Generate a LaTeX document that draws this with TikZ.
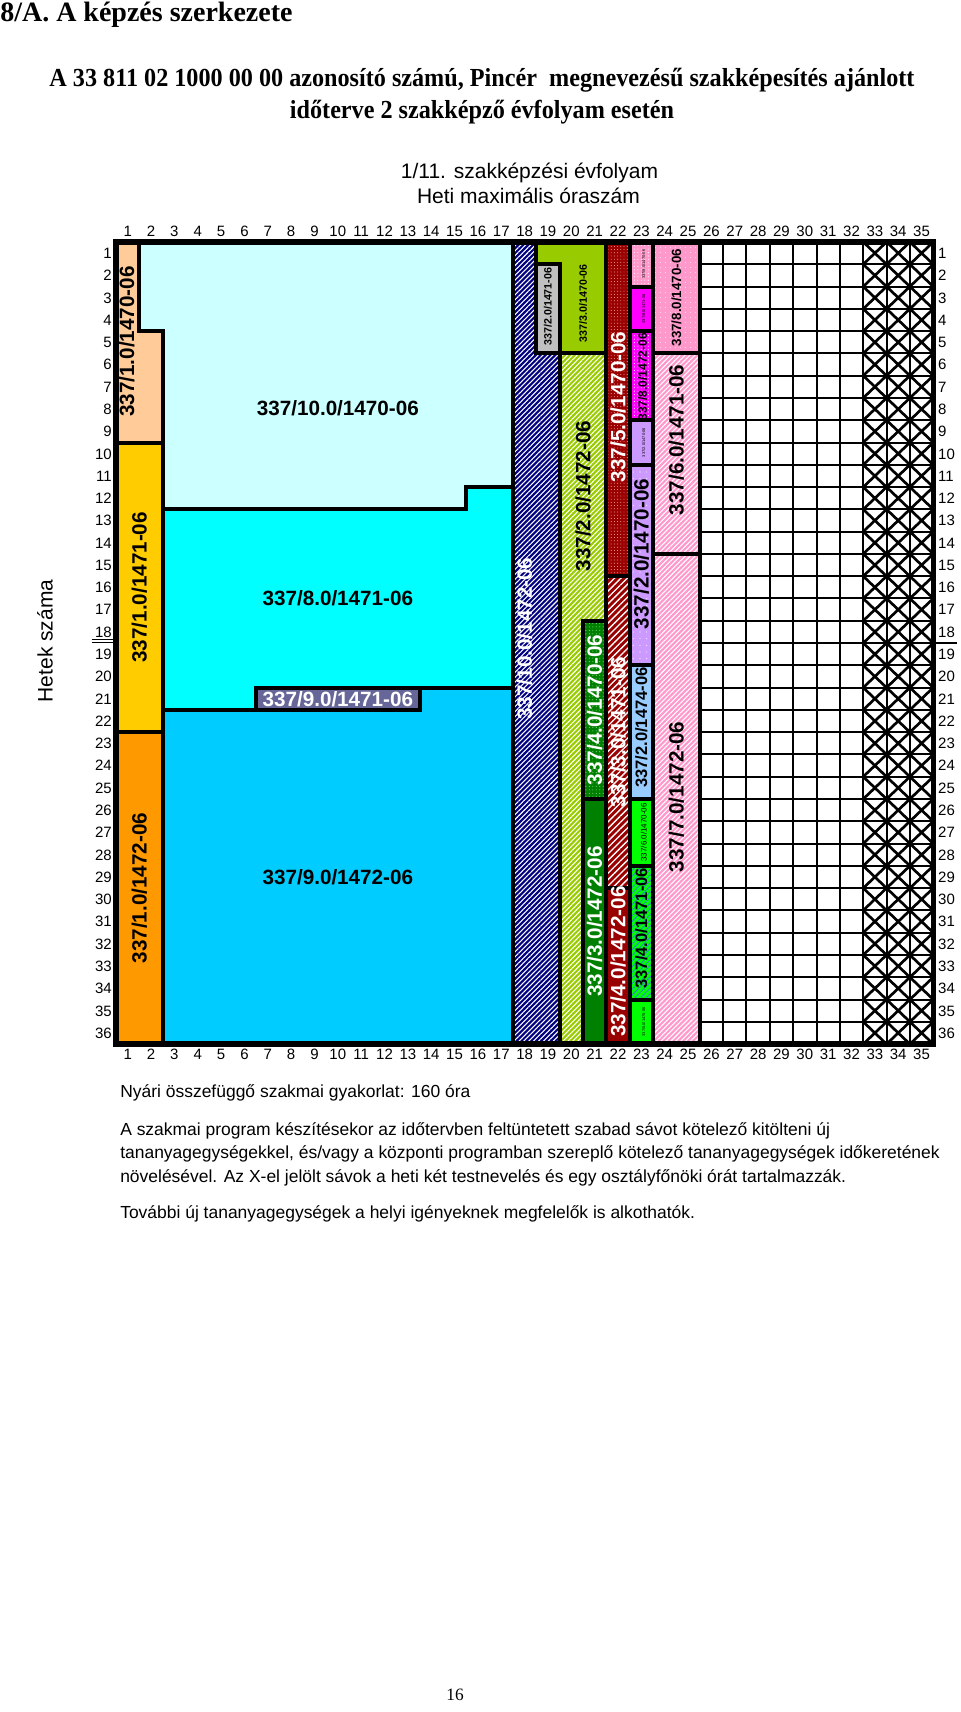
\documentclass[tikz,border=0pt]{standalone}
\usepackage{fontspec}
\setmainfont{Liberation Sans}
\newfontfamily\tnr{Liberation Serif}
\newfontfamily\tnrhead{Liberation Serif}[FakeStretch=0.93]
\usetikzlibrary{patterns.meta}
\definecolor{peach}{HTML}{FFCC99}
\definecolor{gold}{HTML}{FFCC00}
\definecolor{orangeC}{HTML}{FF9900}
\definecolor{lcyan}{HTML}{CCFFFF}
\definecolor{cyanC}{HTML}{00FFFF}
\definecolor{skyC}{HTML}{00CCFF}
\definecolor{slate}{HTML}{666699}
\definecolor{navyC}{HTML}{000080}
\definecolor{greyC}{HTML}{C0C0C0}
\definecolor{lime}{HTML}{99CC00}
\definecolor{dgreen}{HTML}{008000}
\definecolor{lgdot}{HTML}{88DD88}
\definecolor{dred}{HTML}{990000}
\definecolor{pkdot}{HTML}{FFBBBB}
\definecolor{pinkC}{HTML}{FF99CC}
\definecolor{magC}{HTML}{FF00FF}
\definecolor{lav}{HTML}{CC99FF}
\definecolor{lblue}{HTML}{99CCFF}
\definecolor{bgreen}{HTML}{00FF00}
\definecolor{hblue}{HTML}{3388CC}
\tikzset{
  blk/.style={draw=black,line width=3pt,line join=miter},
  lab/.style={inner sep=0pt,font=\bfseries\fontsize{15.5}{18}\selectfont},
  labm/.style={inner sep=0pt,font=\bfseries\fontsize{12.4}{14}\selectfont},
  labs/.style={inner sep=0pt,font=\bfseries\fontsize{10}{12}\selectfont},
  labx/.style={inner sep=0pt,font=\bfseries\fontsize{8}{9}\selectfont},
  labt/.style={inner sep=0pt,font=\fontsize{3}{3.5}\selectfont},
  rot/.style={rotate=90},
  num/.style={inner sep=0pt,font=\fontsize{11.25}{12}\selectfont},
  body/.style={anchor=base west,inner sep=0pt,font=\fontsize{13.1}{15}\selectfont},
  wlines/.style={pattern={Lines[angle=45,distance=2.6pt,line width=0.8pt]},pattern color=white},
  wlinesw/.style={pattern={Lines[angle=45,distance=3.4pt,line width=1pt]},pattern color=white},
  blines/.style={pattern={Lines[angle=45,distance=3pt,line width=0.7pt]},pattern color=hblue},
  wdots/.style={pattern={Dots[distance=2.6pt,radius=0.4pt]},pattern color=white},
}
\begin{document}
\begin{tikzpicture}[x=0.75pt,y=-0.75pt]
\useasboundingbox (0,0) rectangle (960,1712);
\fill[white] (0,0) rectangle (960,1712);
% headings
\node[anchor=base west,inner sep=0pt,font=\tnr\bfseries\fontsize{21}{24}\selectfont] (title) at (0,22) {8/A. A képzés szerkezete};
\node[anchor=base,inner sep=0pt,font=\tnrhead\bfseries\fontsize{19.5}{22}\selectfont] (h1) at (482,87) {A 33 811 02 1000 00 00 azonosító számú, Pincér\ \ megnevezésű szakképesítés ajánlott};
\node[anchor=base,inner sep=0pt,font=\tnrhead\bfseries\fontsize{19.5}{22}\selectfont] (h2) at (482,118.7) {időterve 2 szakképző évfolyam esetén};
\node[anchor=base,inner sep=0pt,font=\fontsize{15.75}{18}\selectfont] (h3) at (529.5,179) {1/11. szakképzési évfolyam};
\node[anchor=base,inner sep=0pt,font=\fontsize{15.75}{18}\selectfont] (h4) at (528.5,204) {Heti maximális óraszám};
\node[rotate=90,inner sep=0pt,font=\fontsize{15.75}{18}\selectfont] (hs) at (45,641) {Hetek száma};
% separators at week 18
\draw[line width=0.75pt] (91.7,639) -- (113.3,639) (91.7,642.3) -- (113.3,642.3);
\draw[line width=1.5pt] (935,642.7) -- (956.7,642.7);
% body text
\node[body] (b1) at (120,1097) {Nyári összefüggő szakmai gyakorlat: 160 óra};
\node[body] (b2) at (120,1135.2) {A szakmai program készítésekor az időtervben feltüntetett szabad sávot kötelező kitölteni új};
\node[body] (b3) at (120,1158.2) {tananyagegységekkel, és/vagy a központi programban szereplő kötelező tananyagegységek időkeretének};
\node[body] (b4) at (120,1182.2) {növelésével. Az X-el jelölt sávok a heti két testnevelés és egy osztályfőnöki órát tartalmazzák.};
\node[body] (b5) at (120,1218.2) {További új tananyagegységek a helyi igényeknek megfelelők is alkothatók.};
\node[anchor=base,inner sep=0pt,font=\tnr\fontsize{13}{15}\selectfont] (pg) at (455,1700) {16};
\begin{scope}[shift={(116,242)}]
\begin{scope}[x=17.5125pt,y=-16.71pt]
\def\pA{(0,0) -- (1,0) -- (1,4) -- (2,4) -- (2,9) -- (0,9) -- cycle}
\def\pB{(0,9) rectangle (2,22)}
\def\pC{(0,22) rectangle (2,36)}
\def\pD{(1,0) -- (17,0) -- (17,11) -- (15,11) -- (15,12) -- (2,12) -- (2,4) -- (1,4) -- cycle}
\def\pE{(2,12) -- (15,12) -- (15,11) -- (17,11) -- (17,20) -- (6,20) -- (6,21) -- (2,21) -- cycle}
\def\pF{(6,20) rectangle (13,21)}
\def\pG{(2,21) -- (13,21) -- (13,20) -- (17,20) -- (17,36) -- (2,36) -- cycle}
\def\pH{(17,0) -- (18,0) -- (18,5) -- (19,5) -- (19,36) -- (17,36) -- cycle}
\def\pI{(18,1) rectangle (19,5)}
\def\pJ{(18,0) -- (21,0) -- (21,5) -- (19,5) -- (19,1) -- (18,1) -- cycle}
\def\pK{(19,5) -- (21,5) -- (21,17) -- (20,17) -- (20,36) -- (19,36) -- cycle}
\def\pL{(20,17) rectangle (21,25)}
\def\pM{(20,25) rectangle (21,36)}
\def\pN{(21,0) rectangle (22,15)}
\def\pO{(21,15) rectangle (22,29)}
\def\pP{(21,29) rectangle (22,36)}
\def\qA{(22,0) rectangle (23,2)}
\def\qB{(22,2) rectangle (23,4)}
\def\qC{(22,4) rectangle (23,8)}
\def\qD{(22,8) rectangle (23,10)}
\def\qE{(22,10) rectangle (23,19)}
\def\qF{(22,19) rectangle (23,25)}
\def\qG{(22,25) rectangle (23,28)}
\def\qH{(22,28) rectangle (23,34)}
\def\qI{(22,34) rectangle (23,36)}
\def\rA{(23,0) rectangle (25,5)}
\def\rB{(23,5) rectangle (25,14)}
\def\rC{(23,14) rectangle (25,36)}
% fills
\fill[peach] \pA; \fill[gold] \pB; \fill[orangeC] \pC;
\fill[lcyan] \pD; \fill[cyanC] \pE; \fill[slate] \pF; \fill[skyC] \pG;
\fill[navyC] \pH; \path[wlines] \pH;
\fill[greyC] \pI; \fill[lime] \pJ;
\fill[lime] \pK; \path[wlines] \pK;
\fill[dgreen] \pL; \path[pattern={Dots[distance=2.6pt,radius=0.4pt]},pattern color=lgdot] \pL;
\fill[dgreen] \pM;
\fill[dred] \pN; \path[pattern={Dots[distance=2.4pt,radius=0.35pt]},pattern color=pkdot] \pN;
\fill[dred] \pO; \path[wlinesw] \pO;
\fill[dred] \pP;
\fill[pinkC] \qA; \path[wdots] \qA;
\fill[magC] \qB;
\fill[magC] \qC; \path[wdots] \qC;
\fill[lav] \qD;
\fill[lav] \qE; \path[pattern={Dots[distance=5pt,radius=0.4pt]},pattern color=white] \qE;
\fill[lblue] \qF;
\fill[bgreen] \qG;
\fill[bgreen] \qH; \path[blines] \qH;
\fill[bgreen] \qI;
\fill[pinkC] \rA; \path[pattern={Dots[distance=4pt,radius=0.35pt]},pattern color=white] \rA;
\fill[pinkC] \rB; \path[wlines] \rB;
\fill[pinkC] \rC; \path[wlines] \rC;
% free and X columns
\foreach \i in {26,...,34} \draw[line width=1.5pt] (\i,0) -- (\i,36);
\foreach \j in {1,...,35} \draw[line width=1.5pt] (25,\j) -- (35,\j);
\foreach \i in {32,33,34} \foreach \j in {0,...,35} {
  \draw[line width=2pt] (\i,\j) -- (\i+1,\j+1) (\i+1,\j) -- (\i,\j+1);
}
% borders
\foreach \p in {\pA,\pB,\pC,\pD,\pE,\pF,\pG,\pH,\pI,\pJ,\pK,\pL,\pM,\pN,\pO,\pP,\qA,\qB,\qC,\qD,\qE,\qF,\qG,\qH,\qI,\rA,\rB,\rC} \draw[blk] \p;
\draw[line width=3pt] (25,0) -- (25,36);
\draw[line width=4pt] (0,0) rectangle (35,36);
% labels
\node[lab,rot] (l1a) at (0.46,4.47) {337/1.0/1470-06};
\node[lab,rot] (l1b) at (1,15.5) {337/1.0/1471-06};
\node[lab,rot] (l1c) at (1,29) {337/1.0/1472-06};
\node[lab] (l10a) at (9.5,7.44) {337/10.0/1470-06};
\node[lab] (l8b) at (9.5,15.98) {337/8.0/1471-06};
\node[lab,text=white] (l9b) at (9.5,20.5) {337/9.0/1471-06};
\node[lab] (l9c) at (9.5,28.49) {337/9.0/1472-06};
\node[lab,rot,text=white] (l10c) at (17.5,17.8) {337/10.0/1472-06};
\node[labx,rot] (l2b) at (18.5,2.9) {337/2.0/1471-06};
\node[labx,rot] (l3a) at (20,2.75) {337/3.0/1470-06};
\node[lab,rot] (l2c) at (20,11.4) {337/2.0/1472-06};
\node[lab,rot,text=white] (l4a) at (20.5,21) {337/4.0/1470-06};
\node[lab,rot,text=white] (l3c) at (20.5,30.5) {337/3.0/1472-06};
\node[lab,rot,text=white] (l5a) at (21.5,7.4) {337/5.0/1470-06};
\node[lab,rot,text=white] (l3b) at (21.5,22) {337/3.0/1471-06};
\node[lab,rot,text=white] (l4c) at (21.5,32.3) {337/4.0/1472-06};
\node[labt,rot] (t1) at (22.6,1) {337/8.0/1470-06};
\node[labt,rot] (t2) at (22.6,3) {337/8.0/1471-06};
\node[inner sep=0pt,font=\bfseries\fontsize{9}{10}\selectfont,rot] (t3) at (22.55,6.05) {337/8.0/1472-06};
\node[labt,rot] (t4) at (22.6,9) {337/2.0/1470-06};
\node[lab,rot] (t5) at (22.5,14) {337/2.0/1470-06};
\node[labm,rot] (t6) at (22.5,21.8) {337/2.0/1474-06};
\node[inner sep=0pt,font=\fontsize{6}{7}\selectfont,rot] (t7) at (22.6,26.5) {337/6.0/1470-06};
\node[labm,rot] (t8) at (22.5,30.8) {337/4.0/1471-06};
\node[labt,rot] (t9) at (22.6,35) {337/5.0/1470-06};
\node[labs,rot] (l8a) at (24,2.5) {337/8.0/1470-06};
\node[lab,rot] (l6b) at (24,8.88) {337/6.0/1471-06};
\node[lab,rot] (l7c) at (24,24.9) {337/7.0/1472-06};
% axis numbers
\foreach \c in {1,...,35} {
  \node[num,anchor=base] (ct\c) at (\c-0.5,-0.25) {\c};
  \node[num,anchor=base] (cb\c) at (\c-0.5,36.67) {\c};
}
\foreach \r in {1,...,36} {
  \node[num,anchor=base east] (rl\r) at (-0.17,\r-0.26) {\r};
  \node[num,anchor=base west] (rr\r) at (35.2,\r-0.26) {\r};
}
\end{scope}
\end{scope}
\end{tikzpicture}
\end{document}
